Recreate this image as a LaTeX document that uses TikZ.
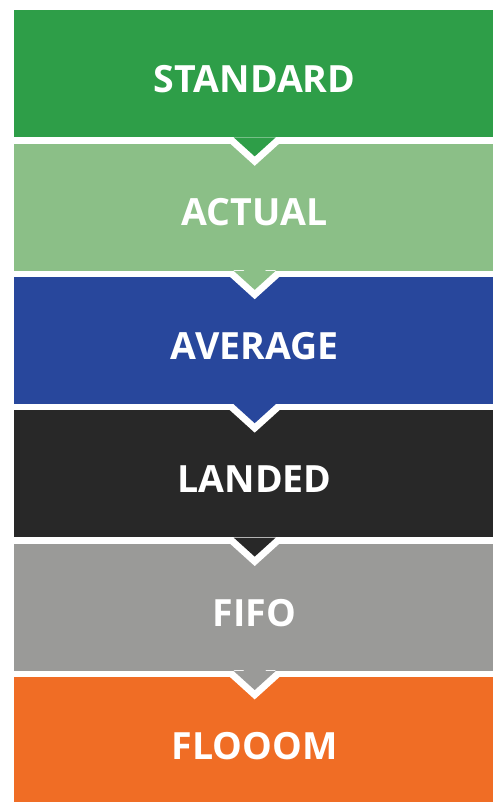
\documentclass[tikz,border=0pt]{standalone}
\usepackage{fontspec}
\setmainfont{Open Sans}
\definecolor{cA}{HTML}{2E9E48}
\definecolor{cB}{HTML}{8BBF87}
\definecolor{cC}{HTML}{28479C}
\definecolor{cD}{HTML}{282828}
\definecolor{cE}{HTML}{9A9A98}
\definecolor{cF}{HTML}{F06D25}
\tikzset{
  band/.style={rectangle, inner sep=0pt, minimum width=479pt, draw=none},
  bandtext/.style={text=white, font=\fontsize{37.5}{40}\selectfont\bfseries, inner sep=0pt},
}
\begin{document}
\begin{tikzpicture}[x=1pt,y=1pt]
\fill[white] (0,0) rectangle (493,802);
\useasboundingbox (0,0) rectangle (493,802);
% bands (pixel top/bottom -> y = 802 - px)
\node[band, fill=cA, minimum height=127pt, anchor=north west] (b1) at (14,792) {};
\node[band, fill=cB, minimum height=127pt, anchor=north west] (b2) at (14,658.6) {};
\node[band, fill=cC, minimum height=127pt, anchor=north west] (b3) at (14,525.2) {};
\node[band, fill=cD, minimum height=127pt, anchor=north west] (b4) at (14,391.8) {};
\node[band, fill=cE, minimum height=127pt, anchor=north west] (b5) at (14,258.4) {};
\node[band, fill=cF, minimum height=125pt, anchor=north west] (b6) at (14,125) {};
% labels
\node[bandtext] (t1) at ([xshift=1pt,yshift=-5.5pt]b1.center) {STANDARD};
\node[bandtext] (t2) at ([xshift=1pt,yshift=-5.5pt]b2.center) {ACTUAL};
\node[bandtext] (t3) at ([xshift=1pt,yshift=-5.5pt]b3.center) {AVERAGE};
\node[bandtext] (t4) at ([xshift=1pt,yshift=-5.5pt]b4.center) {LANDED};
\node[bandtext] (t5) at ([xshift=1pt,yshift=-5.5pt]b5.center) {FIFO};
\node[bandtext] (t6) at ([xshift=1pt,yshift=-6.5pt]b6.center) {FLOOOM};
% pointers
\foreach \b/\c in {b1/cA, b2/cB, b3/cC, b4/cD, b5/cE}{
  \begin{scope}
    \clip ([xshift=-60pt]\b.south) rectangle ([xshift=60pt,yshift=-40pt]\b.south);
    \draw[white, line width=14pt, line join=miter]
      ([xshift=-20pt]\b.south) -- ([xshift=1pt,yshift=-19pt]\b.south) -- ([xshift=22pt]\b.south);
  \end{scope}
  \fill[\c] ([xshift=-20pt]\b.south) -- ([xshift=1pt,yshift=-19pt]\b.south) -- ([xshift=22pt]\b.south) -- cycle;
}
\end{tikzpicture}
\end{document}
